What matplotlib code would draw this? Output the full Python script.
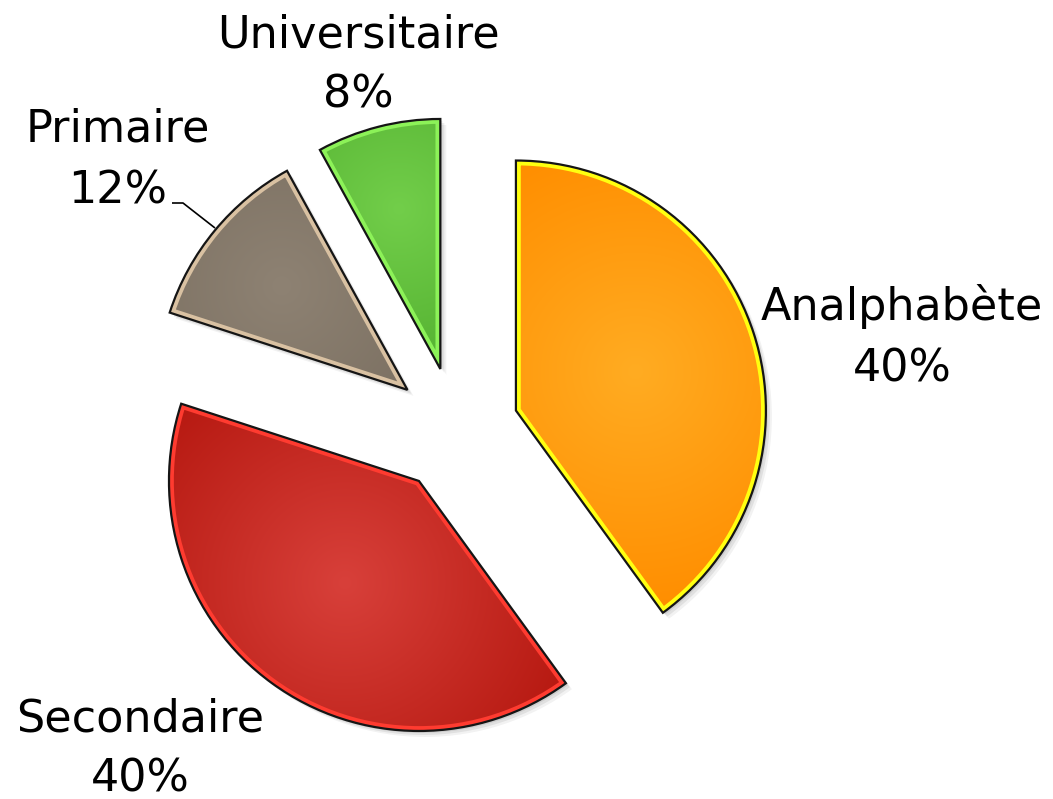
import numpy as np
import matplotlib
matplotlib.use("Agg")
import matplotlib.pyplot as plt
from matplotlib.patches import Wedge
from matplotlib.colors import to_rgb

# data
categories = ["Analphabète", "Secondaire", "Primaire", "Universitaire"]
values = [40, 40, 12, 8]

# style per slice: (center color, outer color, border color)
inner_cols = ["#FFAC22", "#D8403A", "#8E8273", "#72CE4A"]
outer_cols = ["#FF8E00", "#B71A12", "#74695B", "#47A526"]
border_cols = ["#FFFF10", "#FF3B30", "#D9C1A2", "#8CF258"]

# label anchors (pixels, top-left origin) and line gap
label_pos = [(902, 320), (140, 731), (118, 142), (358, 47)]
line_gap = 61

W, H = 1053, 799
fig = plt.figure(figsize=(W / 100, H / 100), dpi=100)
ax = fig.add_axes([0, 0, 1, 1])

cx, cy, R = 456, H - 430, 250
wedges, _ = ax.pie(values, startangle=90, counterclock=False, radius=R,
                   center=(cx, cy), explode=[63] * len(values),
                   wedgeprops=dict(linewidth=0, facecolor="none"))
ax.set_xlim(0, W)
ax.set_ylim(0, H)
ax.set_aspect("equal")
ax.axis("off")

for i, w in enumerate(wedges):
    (wx, wy), r, t1, t2 = w.center, w.r, w.theta1, w.theta2
    half = np.deg2rad(abs(t2 - t1)) / 2
    tm = np.deg2rad((t1 + t2) / 2)
    d = 2 / 3 * r * np.sin(half) / half
    gx, gy = wx + d * np.cos(tm), wy + d * np.sin(tm)

    # soft drop shadow
    for k, a in [(6, 0.05), (4, 0.07), (2, 0.08)]:
        ax.add_patch(Wedge((wx + k, wy - k), r, t1, t2, facecolor="black",
                           edgecolor="none", alpha=a, zorder=1))

    # radial gradient fill clipped to the wedge
    x0, x1, y0, y1 = wx - r, wx + r, wy - r, wy + r
    xs = np.linspace(x0, x1, 400)
    ys = np.linspace(y0, y1, 400)
    XX, YY = np.meshgrid(xs, ys)
    t = np.clip(np.hypot(XX - gx, YY - gy) / (0.95 * r), 0, 1)[..., None]
    img = (1 - t) * np.array(to_rgb(inner_cols[i])) + t * np.array(to_rgb(outer_cols[i]))
    im = ax.imshow(img, extent=(x0, x1, y0, y1), origin="lower", zorder=2,
                   interpolation="bilinear")
    base = Wedge((wx, wy), r, t1, t2, facecolor="none", edgecolor="none")
    ax.add_patch(base)
    im.set_clip_path(base)

    # coloured inner border, clipped so only the inside half shows
    brd = Wedge((wx, wy), r, t1, t2, facecolor="none",
                edgecolor=border_cols[i], linewidth=7, zorder=3)
    ax.add_patch(brd)
    brd.set_clip_path(base)
    # thin dark outline
    ax.add_patch(Wedge((wx, wy), r, t1, t2, facecolor="none",
                       edgecolor="#151515", linewidth=1.6, zorder=4,
                       joinstyle="miter"))

# labels
for name, v, (lx, ly) in zip(categories, values, label_pos):
    ax.text(lx, H - ly, name, ha="center", va="baseline", fontsize=32,
            color="black", zorder=5)
    ax.text(lx, H - ly - line_gap, f"{v}%", ha="center", va="baseline",
            fontsize=32, color="black", zorder=5)

# leader line for Primaire
ax.plot([172, 183, 215], [H - 203, H - 203, H - 228], color="black",
        linewidth=1.2, zorder=5, solid_capstyle="butt")

fig.savefig("out.png", dpi=100, facecolor="white")
